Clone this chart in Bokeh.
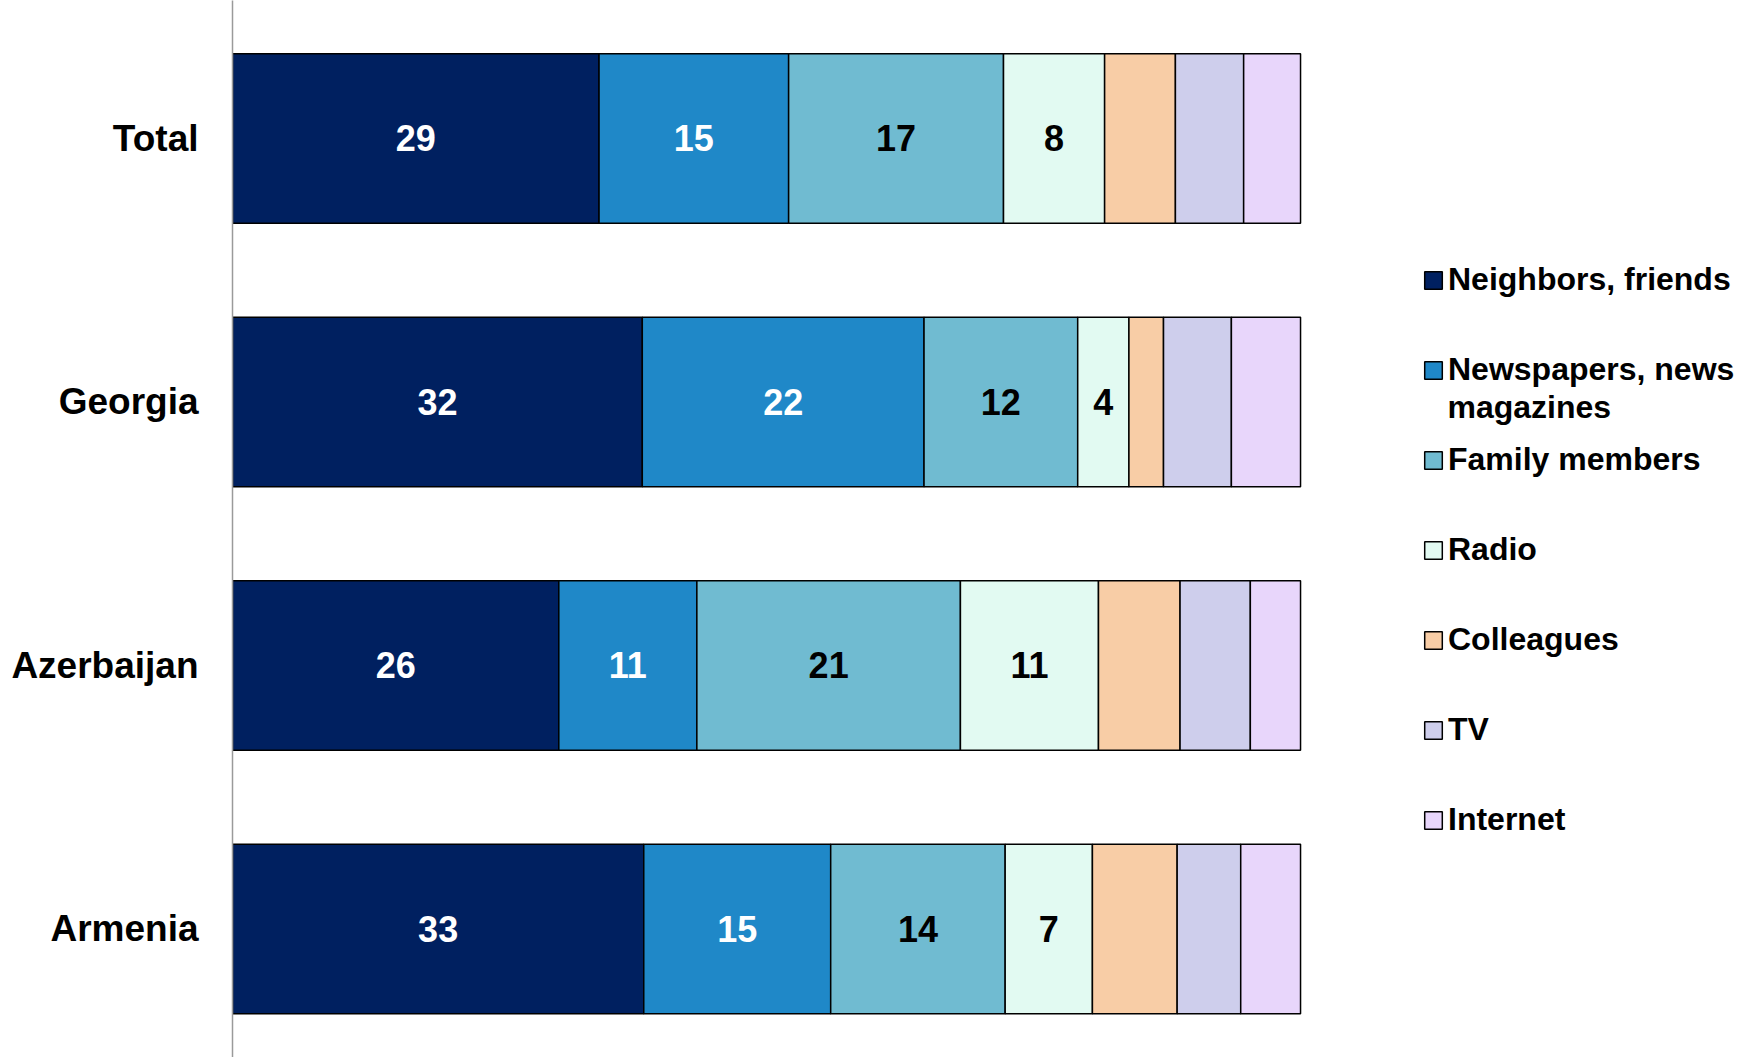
import numpy as np
from bokeh.plotting import figure
from bokeh.models import ColumnDataSource, Range1d, FixedTicker, Legend, LegendItem, Label
from bokeh.core.properties import value
from bokeh.embed import file_html
from bokeh.resources import INLINE

categories = ["Total", "Georgia", "Azerbaijan", "Armenia"]
series = ["Neighbors, friends", "Newspapers, news magazines", "Family members",
          "Radio", "Colleagues", "TV", "Internet"]
neighbors = [29, 32, 26, 33]
newspapers = [15, 22, 11, 15]
family = [17, 12, 21, 14]
radio = [8, 4, 11, 7]
colleagues = [5.6, 2.7, 6.5, 6.8]
tv = [5.4, 5.3, 5.6, 5.1]
internet = [4.5, 5.4, 4.0, 4.8]
labelled = [True, True, True, True, False, False, False]
colors = ["#002060", "#1F88C8", "#70BBD1", "#E2FAF2", "#F8CDA6", "#CECEEC", "#E8D6FB"]
label_colors = ["white", "white", "black", "black", "black", "black", "black"]

vals = np.array([neighbors, newspapers, family, radio, colleagues, tv, internet], dtype=float)
shares = vals / vals.sum(axis=0) * 100.0  # 100% stacked
rights = np.cumsum(shares, axis=0)
lefts = rights - shares
n = len(categories)
ypos = [n - 0.5 - i for i in range(n)]

FONT = "Liberation Sans"
W, H = 1750, 1057
LEFT = 232

p = figure(width=W, height=H, output_backend="svg", toolbar_location=None,
           x_range=Range1d(0, 142.13), y_range=Range1d(0.0123, 4.0237),
           x_axis_location=None, min_border_left=LEFT, min_border_right=0,
           min_border_top=0, min_border_bottom=0)
p.outline_line_color = None
p.xgrid.visible = False
p.ygrid.visible = False
p.background_fill_color = "white"
p.border_fill_color = "white"

items = []
for k, name in enumerate(series):
    src = ColumnDataSource(dict(y=ypos, left=lefts[k], right=rights[k],
                                mid=(lefts[k] + rights[k]) / 2,
                                txt=[("%g" % v) for v in vals[k]]))
    r = p.hbar(y="y", left="left", right="right", height=0.644, source=src,
               fill_color=colors[k], line_color="black", line_width=1.5)
    lab = name if k != 1 else "Newspapers, news"
    items.append(LegendItem(label=lab, renderers=[r]))
    if labelled[k]:
        p.text(x="mid", y="y", text="txt", source=src, text_align="center",
               text_baseline="middle", text_color=label_colors[k],
               text_font=value(FONT), text_font_style="bold", text_font_size="36px")

yax = p.yaxis[0]
yax.ticker = FixedTicker(ticks=ypos)
yax.major_label_overrides = {y: c for y, c in zip(ypos, categories)}
yax.major_tick_out = 0
yax.major_tick_in = 0
yax.minor_tick_out = 0
yax.minor_tick_in = 0
yax.major_label_standoff = 34
yax.major_label_text_font = FONT
yax.major_label_text_font_style = "bold"
yax.major_label_text_font_size = "37px"
yax.major_label_text_color = "black"
yax.axis_line_color = "#9A9A9A"
yax.axis_line_width = 1.5

legend = Legend(items=items, location=(1190, 219), padding=0, margin=0,
                spacing=53, glyph_width=22, glyph_height=22, label_standoff=4,
                label_text_font=FONT, label_text_font_style="bold",
                label_text_font_size="32px", label_text_color="black",
                border_line_color=None, background_fill_alpha=0)
p.add_layout(legend, "center")

# second line of the wrapped legend label
p.add_layout(Label(x=1215, y=H - 406, x_units="screen", y_units="screen",
                   text="magazines", text_baseline="middle", text_align="left",
                   text_font=FONT, text_font_style="bold", text_font_size="32px",
                   text_color="black"))

open("out.html", "w").write(file_html(p, INLINE))
